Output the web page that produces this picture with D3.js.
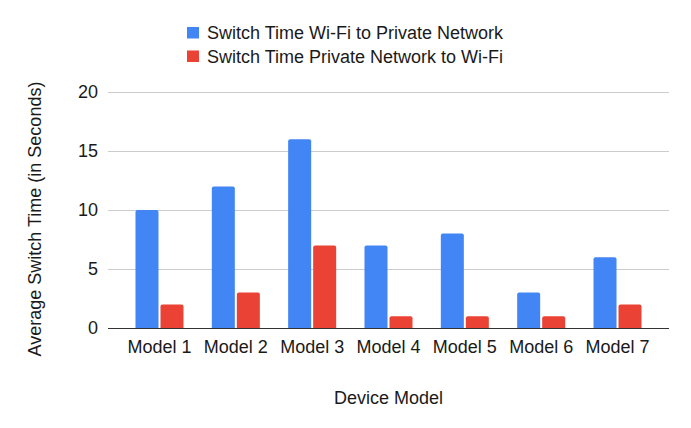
<!DOCTYPE html>
<html><head><meta charset="utf-8">
<script src="https://cdn.jsdelivr.net/npm/d3@7"></script>
<style>body{margin:0;background:#fff;} text{font-family:"Liberation Sans",Arial,sans-serif;}</style>
</head><body><svg id="c" width="691" height="428"></svg>
<script>
const categories = ["Model 1","Model 2","Model 3","Model 4","Model 5","Model 6","Model 7"];
const seriesNames = ["Switch Time Wi-Fi to Private Network","Switch Time Private Network to Wi-Fi"];
const wifiToPrivate = [10,12,16,7,8,3,6];
const privateToWifi = [2,3,7,1,1,1,2];
const colors = ["#4285F4","#EA4335"];
const yTicks = [0,5,10,15,20];

const FS = 18, TC = "#1a1a1a";
const svg = d3.select("#c");
const L=108, R=669, T=92, B=328;
const x0 = d3.scaleBand().domain(categories).range([L,R]).paddingInner(0.371).paddingOuter(0.36);
const x1 = d3.scaleBand().domain([0,1]).range([0,x0.bandwidth()]).paddingInner(0.08);
const y = d3.scaleLinear().domain([0,20]).range([B,T]);

svg.append("g").selectAll("line").data(yTicks.filter(d=>d>0)).join("line")
  .attr("x1",L).attr("x2",R).attr("y1",d=>y(d)+0.5).attr("y2",d=>y(d)+0.5)
  .attr("stroke","#cccccc").attr("stroke-width",1);

const ya = svg.append("g").attr("transform",`translate(${L},0)`).call(d3.axisLeft(y).tickValues(yTicks).tickSize(0).tickPadding(10));
ya.select(".domain").remove();
ya.selectAll("text").attr("font-size",FS).attr("fill",TC).style("font-family","'Liberation Sans',Arial,sans-serif");

const series=[wifiToPrivate,privateToWifi];
series.forEach((vals,si)=>{
  svg.append("g").selectAll("path").data(vals).join("path")
    .attr("fill",colors[si])
    .attr("d",(d,i)=>{
      const xx = x0(categories[i])+x1(si), w=x1.bandwidth(), yt=y(d), r=2;
      return `M${xx},${y(0)}V${yt+r}Q${xx},${yt} ${xx+r},${yt}H${xx+w-r}Q${xx+w},${yt} ${xx+w},${yt+r}V${y(0)}Z`;
    });
});

svg.append("line").attr("x1",L).attr("x2",R).attr("y1",y(0)+0.5).attr("y2",y(0)+0.5).attr("stroke","#333").attr("stroke-width",1);

const xa = svg.append("g").attr("transform",`translate(0,${B})`).call(d3.axisBottom(x0).tickSize(0).tickPadding(12));
xa.select(".domain").remove();
xa.selectAll("text").attr("font-size",FS).attr("fill",TC).style("font-family","'Liberation Sans',Arial,sans-serif");

svg.append("text").attr("x",(L+R)/2).attr("y",404).attr("text-anchor","middle").attr("font-size",FS).attr("fill",TC).text("Device Model");
svg.append("text").attr("transform",`translate(41,219) rotate(-90)`).attr("text-anchor","middle").attr("font-size",FS).attr("fill",TC).text("Average Switch Time (in Seconds)");

const lg = svg.append("g");
seriesNames.forEach((n,i)=>{
  const cy = 33 + i*23.5;
  lg.append("rect").attr("x",187).attr("y",cy-6).attr("width",12).attr("height",11.5).attr("fill",colors[i]);
  lg.append("text").attr("x",207).attr("y",cy+6).attr("font-size",FS).attr("fill",TC).text(n);
});
</script></body></html>
